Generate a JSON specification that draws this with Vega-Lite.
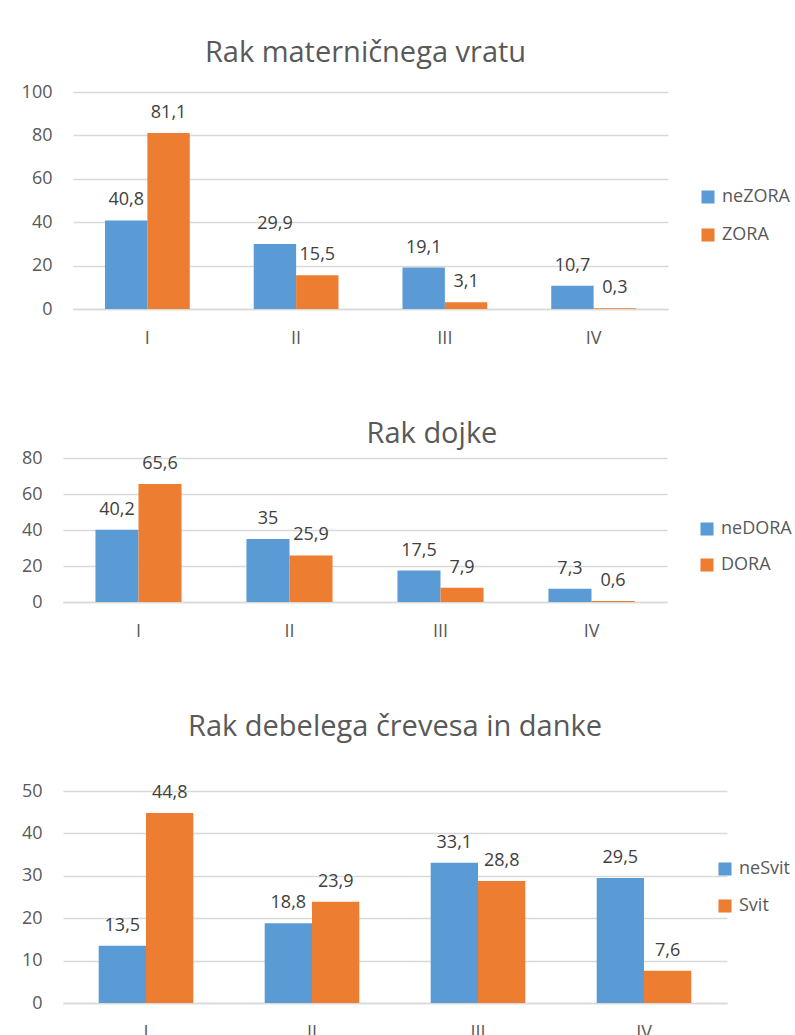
{
  "$schema": "https://vega.github.io/schema/vega-lite/v6.json",
  "background": "white",
  "autosize": {"type": "pad"},
  "padding": {"left": 21, "top": 39, "right": 0, "bottom": 0},
  "config": {
    "locale": {"number": {"decimal": ",", "thousands": ".", "grouping": [3], "currency": ["", " €"]}},
    "font": "Open Sans",
    "view": {"stroke": null},
    "axis": {"labelFont": "Open Sans", "labelFontSize": 18, "labelColor": "#595959", "ticks": false, "domain": false, "gridColor": "#D9D9D9", "gridWidth": 1.3, "title": null},
    "axisX": {"domain": true, "domainColor": "#D9D9D9", "domainWidth": 1.3, "grid": false, "labelAngle": 0, "labelPadding": 20},
    "axisY": {"grid": true, "labelPadding": 21},
    "title": {"fontSize": 29, "fontWeight": "normal", "color": "#595959", "font": "Open Sans", "anchor": "middle", "baseline": "bottom"},
    "legend": {"labelFont": "Open Sans", "labelFontSize": 18, "labelColor": "#595959", "symbolType": "square", "symbolSize": 170, "symbolStrokeWidth": 0, "symbolOpacity": 1, "orient": "none", "title": null, "labelOffset": 5, "padding": 0}
  },
  "columns": 1,
  "align": "none",
  "spacing": 73,
  "resolve": {"scale": {"color": "independent", "x": "independent", "y": "independent", "xOffset": "independent"}, "legend": {"color": "independent"}},
  "concat": [
    {
      "title": {"text": "Rak materničnega vratu", "offset": 15},
      "width": 605,
      "height": 217,
      "data": {"values": [
        {"stage": "I", "series": "neZORA", "value": 40.8},
        {"stage": "I", "series": "ZORA", "value": 81.1},
        {"stage": "II", "series": "neZORA", "value": 29.9},
        {"stage": "II", "series": "ZORA", "value": 15.5},
        {"stage": "III", "series": "neZORA", "value": 19.1},
        {"stage": "III", "series": "ZORA", "value": 3.1},
        {"stage": "IV", "series": "neZORA", "value": 10.7},
        {"stage": "IV", "series": "ZORA", "value": 0.3}
      ]},
      "encoding": {
        "x": {"field": "stage", "type": "nominal", "sort": ["I", "II", "III", "IV"], "scale": {"range": [10, 605], "paddingInner": 0.43, "paddingOuter": 0.215}},
        "xOffset": {"field": "series", "type": "nominal", "sort": ["neZORA", "ZORA"], "scale": {"paddingInner": 0, "paddingOuter": 0}},
        "y": {"field": "value", "type": "quantitative", "scale": {"domain": [0, 100], "nice": false}, "axis": {"values": [0, 20, 40, 60, 80, 100], "labelPadding": 11}}
      },
      "layer": [
        {"mark": {"type": "bar"}, "encoding": {"color": {"field": "series", "type": "nominal", "sort": ["neZORA", "ZORA"], "scale": {"domain": ["neZORA", "ZORA"], "range": ["#5B9BD5", "#ED7D31"]}, "legend": {"legendX": 636, "legendY": 96, "rowPadding": 20}}}},
        {"mark": {"type": "text", "dy": -20, "fontSize": 18, "color": "#404040", "baseline": "middle", "font": "Open Sans"}, "encoding": {"text": {"field": "value", "type": "quantitative", "format": "~g"}}}
      ]
    },
    {
      "title": {"text": "Rak dojke", "offset": 0, "dx": 67},
      "width": 604,
      "height": 144,
      "data": {"values": [
        {"stage": "I", "series": "neDORA", "value": 40.2},
        {"stage": "I", "series": "DORA", "value": 65.6},
        {"stage": "II", "series": "neDORA", "value": 35},
        {"stage": "II", "series": "DORA", "value": 25.9},
        {"stage": "III", "series": "neDORA", "value": 17.5},
        {"stage": "III", "series": "DORA", "value": 7.9},
        {"stage": "IV", "series": "neDORA", "value": 7.3},
        {"stage": "IV", "series": "DORA", "value": 0.6}
      ]},
      "encoding": {
        "x": {"field": "stage", "type": "nominal", "sort": ["I", "II", "III", "IV"], "scale": {"paddingInner": 0.43, "paddingOuter": 0.215}},
        "xOffset": {"field": "series", "type": "nominal", "sort": ["neDORA", "DORA"], "scale": {"paddingInner": 0, "paddingOuter": 0}},
        "y": {"field": "value", "type": "quantitative", "scale": {"domain": [0, 80], "nice": false}, "axis": {"values": [0, 20, 40, 60, 80]}}
      },
      "layer": [
        {"mark": {"type": "bar"}, "encoding": {"color": {"field": "series", "type": "nominal", "sort": ["neDORA", "DORA"], "scale": {"domain": ["neDORA", "DORA"], "range": ["#5B9BD5", "#ED7D31"]}, "legend": {"legendX": 635, "legendY": 62, "rowPadding": 18}}}},
        {"mark": {"type": "text", "dy": -20, "fontSize": 18, "color": "#404040", "baseline": "middle", "font": "Open Sans"}, "encoding": {"text": {"field": "value", "type": "quantitative", "format": "~g"}}}
      ]
    },
    {
      "title": {"text": "Rak debelega črevesa in danke", "offset": 40},
      "width": 664,
      "height": 212,
      "data": {"values": [
        {"stage": "I", "series": "neSvit", "value": 13.5},
        {"stage": "I", "series": "Svit", "value": 44.8},
        {"stage": "II", "series": "neSvit", "value": 18.8},
        {"stage": "II", "series": "Svit", "value": 23.9},
        {"stage": "III", "series": "neSvit", "value": 33.1},
        {"stage": "III", "series": "Svit", "value": 28.8},
        {"stage": "IV", "series": "neSvit", "value": 29.5},
        {"stage": "IV", "series": "Svit", "value": 7.6}
      ]},
      "encoding": {
        "x": {"field": "stage", "type": "nominal", "sort": ["I", "II", "III", "IV"], "scale": {"paddingInner": 0.43, "paddingOuter": 0.215}},
        "xOffset": {"field": "series", "type": "nominal", "sort": ["neSvit", "Svit"], "scale": {"paddingInner": 0, "paddingOuter": 0}},
        "y": {"field": "value", "type": "quantitative", "scale": {"domain": [0, 50], "nice": false}, "axis": {"values": [0, 10, 20, 30, 40, 50]}}
      },
      "layer": [
        {"mark": {"type": "bar"}, "encoding": {"color": {"field": "series", "type": "nominal", "sort": ["neSvit", "Svit"], "scale": {"domain": ["neSvit", "Svit"], "range": ["#5B9BD5", "#ED7D31"]}, "legend": {"legendX": 653, "legendY": 69, "rowPadding": 19}}}},
        {"mark": {"type": "text", "dy": -20, "fontSize": 18, "color": "#404040", "baseline": "middle", "font": "Open Sans"}, "encoding": {"text": {"field": "value", "type": "quantitative", "format": "~g"}}}
      ]
    }
  ]
}
